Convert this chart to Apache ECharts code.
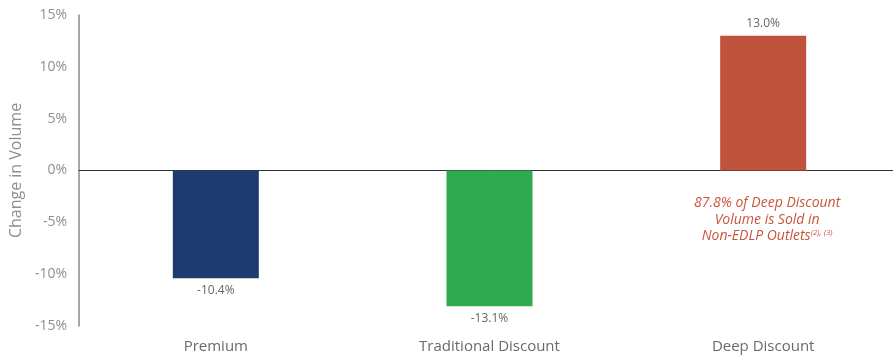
<!DOCTYPE html>
<html>
<head>
<meta charset="utf-8">
<script src="https://cdn.jsdelivr.net/npm/echarts@6/dist/echarts.min.js"></script>
<style>
  html, body { margin: 0; padding: 0; background: #fff; overflow: hidden; }
  #chart { width: 900px; height: 360px; }
</style>
</head>
<body>
<div id="chart"></div>
<script>
// Volume change by price tier
const categories = ['Premium', 'Traditional Discount', 'Deep Discount'];
const volumeChange = [-10.4, -13.1, 13.0];
const barColors = ['#1f3a6e', '#2eaa4f', '#c0533c'];
const yTicks = [-15, -10, -5, 0, 5, 10, 15];

const FONT = '"Open Sans", Lato, sans-serif';

const chart = echarts.init(document.getElementById('chart'));

chart.setOption({
  animation: false,
  grid: { left: 76, top: 15, right: 0, bottom: 34, containLabel: false },
  xAxis: {
    type: 'category',
    data: categories,
    axisLine: { onZero: true, lineStyle: { color: '#333', width: 1 } },
    axisTick: { show: false },
    axisLabel: { show: false }
  },
  yAxis: {
    type: 'value',
    min: yTicks[0],
    max: yTicks[yTicks.length - 1],
    interval: 5,
    name: 'Change in Volume',
    nameLocation: 'middle',
    nameGap: 53,
    nameTextStyle: { color: '#8f8f8f', fontSize: 16, fontFamily: FONT },
    axisLine: { show: true, lineStyle: { color: '#8a8a8a', width: 1.5 } },
    axisTick: { show: false },
    splitLine: { show: false },
    axisLabel: {
      color: '#8f8f8f',
      fontSize: 14,
      fontFamily: FONT,
      margin: 12,
      formatter: v => v + '%'
    }
  },
  series: [{
    type: 'bar',
    barWidth: 86,
    data: volumeChange.map((v, i) => ({ value: v, itemStyle: { color: barColors[i] } })),
    label: {
      show: true,
      position: 'outside',
      distance: 6,
      color: '#666',
      fontSize: 12,
      fontFamily: FONT,
      formatter: p => p.value.toFixed(1) + '%'
    }
  }]
});

// Category names sit along the bottom edge of the plot, below the bars
function placeOverlay() {
  const bottomY = chart.convertToPixel({ yAxisIndex: 0 }, yTicks[0]);
  const items = categories.map((c, i) => {
    const x = chart.convertToPixel({ xAxisIndex: 0 }, i);
    return {
      type: 'text',
      x: x, y: bottomY + 21,
      style: {
        text: c, fill: '#6a6a6a', font: '15px ' + FONT,
        align: 'center', verticalAlign: 'middle'
      }
    };
  });
  const xDeep = chart.convertToPixel({ xAxisIndex: 0 }, 2);
  items.push({
    type: 'text',
    x: xDeep + 4, y: 220,
    style: {
      text: '87.8% of Deep Discount\nVolume is Sold in\nNon-EDLP Outlets{sup|(2), (3)}',
      fill: '#c9553c',
      font: 'italic 14px ' + FONT,
      align: 'center', verticalAlign: 'middle',
      lineHeight: 16.5,
      rich: {
        sup: { fontSize: 8, fontStyle: 'italic', fill: '#c9553c', verticalAlign: 'top', padding: [0, 0, 8, 0], fontFamily: FONT }
      }
    }
  });
  chart.setOption({ graphic: items });
}
placeOverlay();
</script>
</body>
</html>
